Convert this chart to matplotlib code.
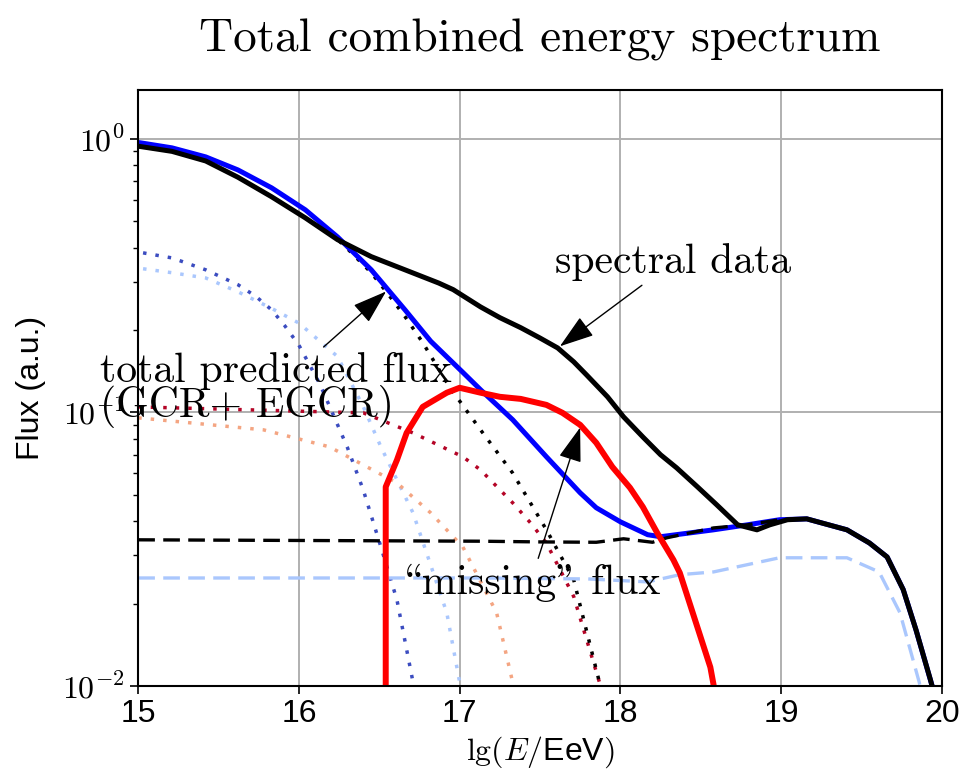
import math
import matplotlib
matplotlib.use("Agg")
import matplotlib.pyplot as plt
from matplotlib.ticker import FuncFormatter

plt.rcParams['font.family'] = ['Liberation Sans', 'DejaVu Sans']
plt.rcParams['font.size'] = 23
plt.rcParams['mathtext.fontset'] = 'cm'

serif = ['cmr10', 'DejaVu Serif']

# spectral data (black solid)
data_x = [15.00, 15.21, 15.42, 15.62, 15.83, 16.04, 16.24, 16.45, 16.66, 16.87, 16.96, 17.13,
          17.25, 17.38, 17.50, 17.61, 17.71, 17.79, 17.92, 18.02, 18.14, 18.25, 18.35, 18.48,
          18.60, 18.73, 18.85, 18.93, 19.04, 19.16, 19.41, 19.55, 19.66, 19.76, 19.84, 19.93, 19.96]
data_y = [0.940, 0.900, 0.830, 0.724, 0.614, 0.514, 0.428, 0.371, 0.332, 0.297, 0.281, 0.243,
          0.222, 0.204, 0.187, 0.172, 0.153, 0.137, 0.114, 0.0963, 0.0813, 0.070, 0.0627, 0.0534,
          0.0459, 0.0388, 0.0372, 0.0388, 0.0405, 0.0408, 0.0372, 0.0333, 0.0296, 0.0225, 0.0160, 0.0105, 0.0090]

# total predicted flux (blue solid)
tot_x = [15.00, 15.21, 15.42, 15.62, 15.83, 16.04, 16.24, 16.45, 16.66, 16.82, 17.02, 17.13,
         17.33, 17.54, 17.75, 17.85, 18.00, 18.17, 18.25, 18.58, 18.79, 18.99, 19.16, 19.41,
         19.55, 19.66, 19.76, 19.84, 19.94, 19.96]
tot_y = [0.970, 0.927, 0.859, 0.770, 0.662, 0.550, 0.438, 0.332, 0.237, 0.182, 0.140, 0.121,
         0.094, 0.0688, 0.0508, 0.0448, 0.0398, 0.0357, 0.0351, 0.0372, 0.0388, 0.0405, 0.0408, 0.0372,
         0.0333, 0.0296, 0.0225, 0.0160, 0.0100, 0.0090]

# "missing" flux (red solid)
miss_x = [16.54, 16.54, 16.61, 16.67, 16.77, 16.92, 17.00, 17.13, 17.25, 17.38, 17.54, 17.64,
          17.75, 17.85, 17.95, 18.06, 18.14, 18.23, 18.33, 18.37, 18.56, 18.58, 18.59]
miss_y = [0.005, 0.0534, 0.0670, 0.0841, 0.1047, 0.118, 0.123, 0.118, 0.114, 0.112, 0.1065, 0.0996,
          0.090, 0.0774, 0.0632, 0.053, 0.0451, 0.0362, 0.0289, 0.0259, 0.0117, 0.0101, 0.009]

# GCR total (black dotted)
gcr_x = [15.00, 15.21, 15.42, 15.62, 15.83, 16.04, 16.24, 16.29, 16.45, 16.55, 16.66, 16.77,
         16.94, 17.13, 17.33, 17.54, 17.71, 17.87, 17.90]
gcr_y = [0.940, 0.900, 0.830, 0.724, 0.614, 0.514, 0.428, 0.403, 0.324, 0.273, 0.224, 0.180,
         0.123, 0.0863, 0.060, 0.0372, 0.0244, 0.0103, 0.009]

# EGCR total (black dashed) and EGCR component (light blue dashed)
egcr_x = [15.00, 17.13, 17.50, 17.85, 18.02, 18.20, 18.29, 18.58, 18.79, 18.99, 19.16, 19.41,
          19.55, 19.66, 19.76, 19.84, 19.94, 19.96]
egcr_y = [0.0342, 0.0338, 0.0336, 0.0335, 0.0345, 0.0335, 0.0348, 0.0378, 0.0388, 0.0405, 0.0408, 0.0372,
          0.0333, 0.0296, 0.0225, 0.0160, 0.0100, 0.0090]
egcr2_x = [15.00, 17.13, 17.80, 18.17, 18.37, 18.58, 18.99, 19.41, 19.61, 19.74, 19.86, 19.88]
egcr2_y = [0.0248, 0.0248, 0.0246, 0.0240, 0.0255, 0.0261, 0.0294, 0.0294, 0.0261, 0.0185, 0.0103, 0.009]

# GCR components (dotted)
c1_x = [15.03, 15.21, 15.42, 15.62, 15.73, 15.83, 15.91, 16.00, 16.13, 16.30, 16.40, 16.51,
        16.61, 16.71, 16.73]
c1_y = [0.383, 0.367, 0.332, 0.293, 0.266, 0.237, 0.208, 0.176, 0.127, 0.0748, 0.0521, 0.0322,
        0.0206, 0.0103, 0.009]
c2_x = [15.03, 15.21, 15.42, 15.62, 15.83, 16.00, 16.24, 16.40, 16.51, 16.71, 16.92, 17.00, 17.01]
c2_y = [0.335, 0.324, 0.310, 0.276, 0.240, 0.212, 0.160, 0.105, 0.0748, 0.0429, 0.0185, 0.0103, 0.009]
c3_x = [15.00, 15.78, 16.19, 16.61, 16.82, 17.02, 17.23, 17.33, 17.35]
c3_y = [0.0955, 0.0863, 0.0748, 0.0552, 0.0429, 0.0322, 0.0185, 0.0103, 0.009]
c4_x = [15.00, 16.40, 16.71, 17.02, 17.13, 17.33, 17.44, 17.54, 17.71, 17.87, 17.89]
c4_y = [0.1047, 0.0996, 0.0841, 0.0688, 0.0616, 0.0467, 0.0395, 0.0333, 0.0212, 0.0103, 0.009]

fig = plt.figure(figsize=(9.6, 7.75), dpi=100)
ax = fig.add_axes([0.144, 0.115, 0.837, 0.769])

dots = (0, (1, 2.6))
dash = (0, (5, 2.5))
ax.plot(c1_x, c1_y, color='#3b4cc0', lw=2.5, ls=dots)
ax.plot(c2_x, c2_y, color='#aac7fd', lw=2.5, ls=dots)
ax.plot(c3_x, c3_y, color='#f4a582', lw=2.5, ls=dots)
ax.plot(c4_x, c4_y, color='#b40426', lw=2.5, ls=dots)
ax.plot(gcr_x, gcr_y, color='black', lw=2.5, ls=dots)
ax.plot(egcr2_x, egcr2_y, color='#aac7fd', lw=2.4, ls=dash)
ax.plot(tot_x, tot_y, color='#0000ff', lw=3.6)
ax.plot(data_x, data_y, color='black', lw=3.6)
ax.plot(egcr_x, egcr_y, color='black', lw=2.4, ls=dash)
ax.plot(miss_x, miss_y, color='#ff0000', lw=4.3)

ax.set_yscale('log')
ax.set_xlim(15, 20)
ax.set_ylim(0.01, 1.51)
ax.yaxis.set_major_formatter(FuncFormatter(lambda v, p: r'$10^{%d}$' % round(math.log10(v))))
ax.grid(True, which='major', color='#b0b0b0', lw=1.4)
ax.tick_params(width=1.2, length=6)
ax.tick_params(which='minor', width=1, length=3.5)
for s in ax.spines.values():
    s.set_linewidth(1.5)

arrow = dict(arrowstyle='-|>,head_length=0.6,head_width=0.2', mutation_scale=36, color='black', lw=1)
ax.annotate('spectral data', xy=(17.61, 0.172), xytext=(18.33, 0.355), fontsize=30,
            family=serif, ha='center', va='center', arrowprops=arrow)
ax.annotate('total predicted flux\n(GCR+ EGCR)', xy=(16.555, 0.281), xytext=(14.76, 0.121),
            fontsize=30, family=serif, ha='left', va='center', linespacing=0.85,
            arrowprops=arrow, annotation_clip=False)
# cmr10 uses TeX encoding: backslash and double quote give the curly quotes
ax.annotate('\\missing" flux', xy=(17.755, 0.090), xytext=(17.44, 0.0238), fontsize=30,
            family=serif, ha='center', va='center', arrowprops=arrow)

ax.set_title('Total combined energy spectrum', fontsize=34, pad=28, family=serif)
ax.set_ylabel('Flux (a.u.)', labelpad=12)
ax.set_xlabel(r'$\lg(E/$EeV$)$')

fig.savefig('out.png', dpi=100)
